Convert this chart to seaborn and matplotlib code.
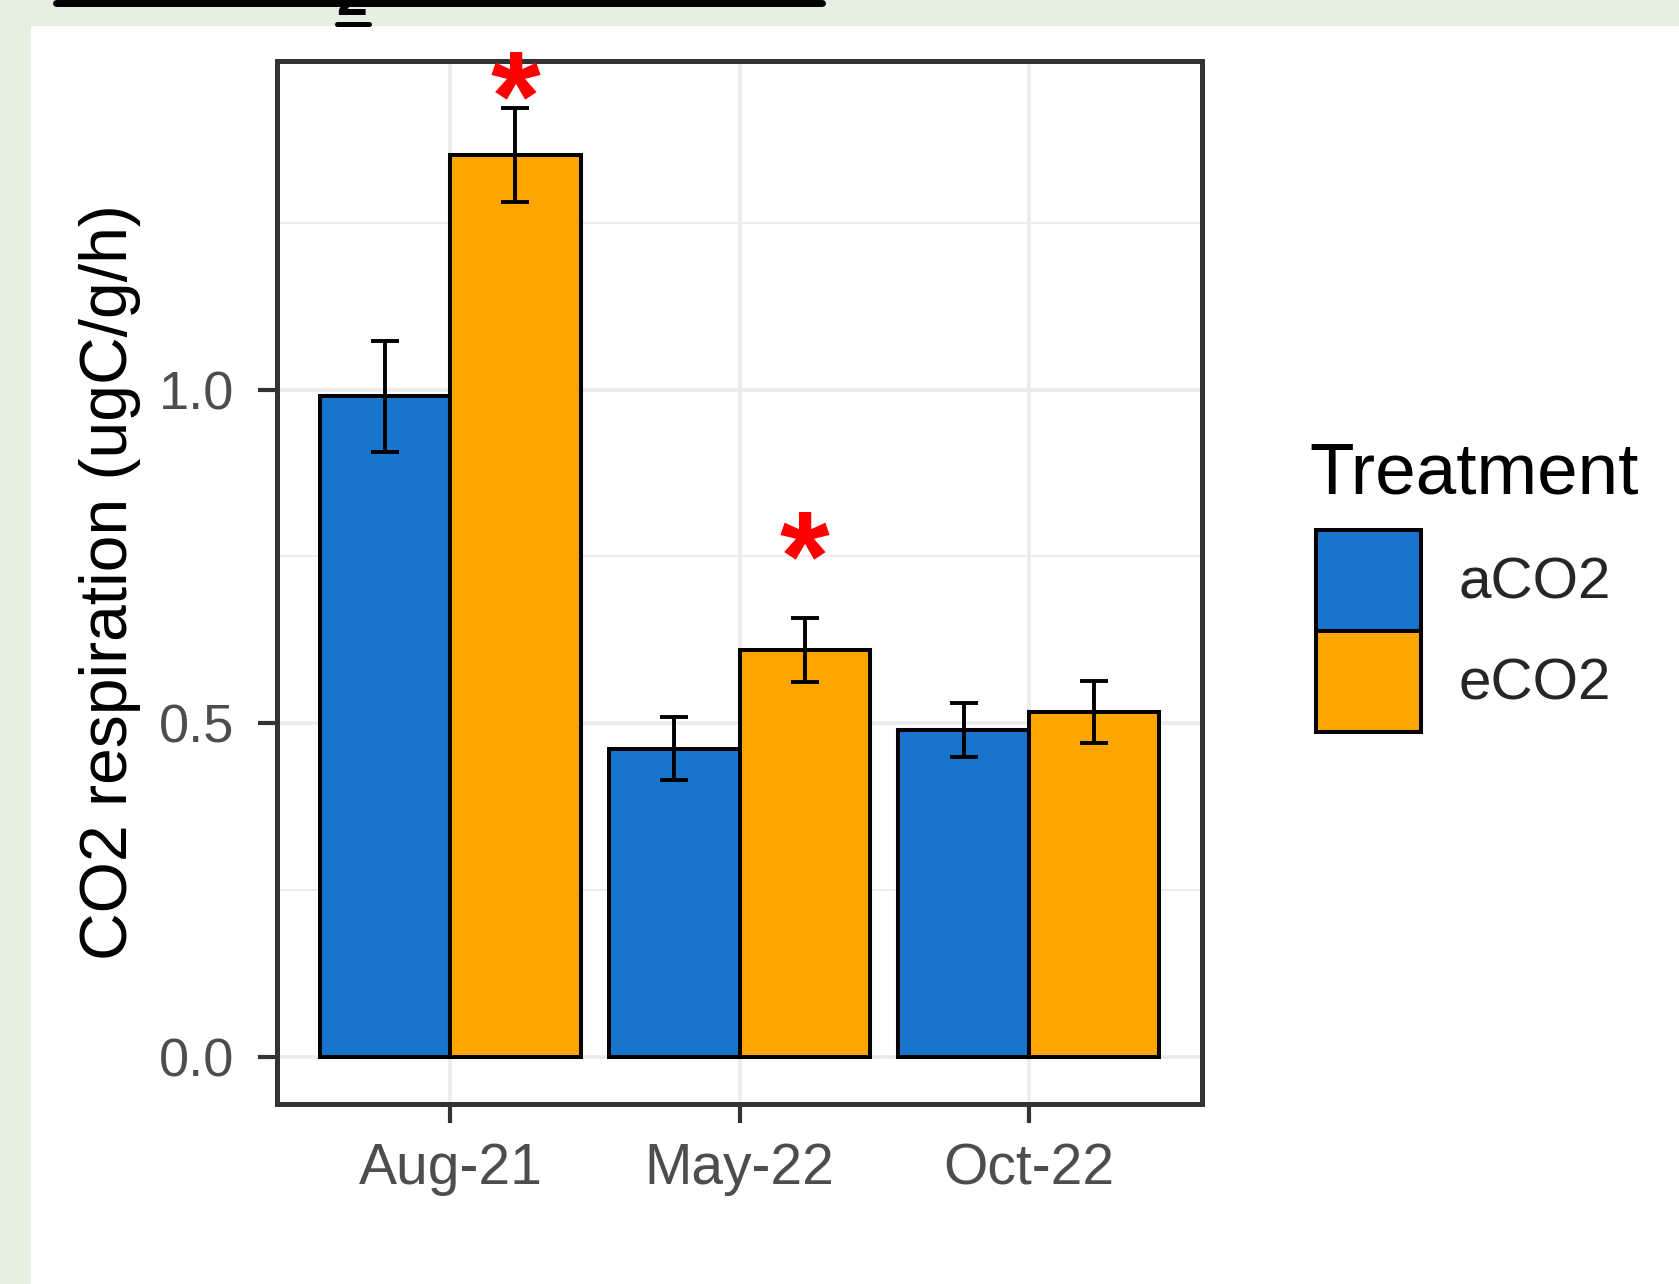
import matplotlib
matplotlib.use("Agg")
import matplotlib.pyplot as plt
import seaborn as sns
import pandas as pd
from matplotlib.patches import Patch, Rectangle
from matplotlib.lines import Line2D
from matplotlib.ticker import MultipleLocator

# Soil CO2 respiration by sampling month and CO2 treatment (mean ± SE)
months = ["Aug-21", "May-22", "Oct-22"]
treatments = ["aCO2", "eCO2"]
mean_aco2 = [0.990, 0.462, 0.490]
mean_eco2 = [1.352, 0.610, 0.517]
se_aco2 = [0.083, 0.047, 0.041]
se_eco2 = [0.070, 0.048, 0.047]
sig_month = ["Aug-21", "May-22"]
sig_treatment = ["eCO2", "eCO2"]
sig_y = [1.463, 0.774]
palette = {"aCO2": "#1874CD", "eCO2": "#FFA500"}

df = pd.DataFrame({
    "Month": months * 2,
    "Treatment": ["aCO2"] * 3 + ["eCO2"] * 3,
    "Resp": mean_aco2 + mean_eco2,
    "SE": se_aco2 + se_eco2,
})

sns.set_theme(style="white")
plt.rcParams["font.family"] = ["Liberation Sans", "DejaVu Sans"]

W, H = 1679, 1284
fig = plt.figure(figsize=(W / 100, H / 100), dpi=100, facecolor="#E5F0E1")
fig.add_artist(Rectangle((31 / W, 0), 1 - 31 / W, 1 - 26 / H,
                         transform=fig.transFigure, facecolor="white",
                         edgecolor="none", zorder=-5))

# heading fragment along the top edge
fig.add_artist(Line2D([56 / W, 822 / W], [1 - 3 / H, 1 - 3 / H],
                      transform=fig.transFigure, color="black", lw=5.0))
fig.add_artist(Line2D([337 / W, 369 / W], [1 - 23.5 / H, 1 - 23.5 / H],
                      transform=fig.transFigure, color="black", lw=3.6))
fig.text(352 / W, 1 - 15 / H, "2", ha="center", va="baseline",
         fontsize=40, fontweight="bold", color="black")

ax = fig.add_axes([277 / W, 1 - 1104 / H, (1202 - 277) / W, (1104 - 61) / H])
ax.set_facecolor("white")

sns.barplot(data=df, x="Month", y="Resp", hue="Treatment", order=months,
            hue_order=treatments, palette=palette, width=0.9, errorbar=None,
            edgecolor="black", linewidth=2.9, saturation=1, legend=False,
            ax=ax, zorder=2)

se_by_t = {"aCO2": se_aco2, "eCO2": se_eco2}
for cont, t in zip(ax.containers, treatments):
    xs = [b.get_x() + b.get_width() / 2 for b in cont]
    hs = [b.get_height() for b in cont]
    ax.errorbar(xs, hs, yerr=se_by_t[t], fmt="none", ecolor="black",
                elinewidth=2.8, capsize=10.4, capthick=2.8, zorder=3)

# significance markers, glyph centred on the given height
for m, t, y in zip(sig_month, sig_treatment, sig_y):
    bar = ax.containers[treatments.index(t)][months.index(m)]
    ax.annotate("*", xy=(bar.get_x() + bar.get_width() / 2, y),
                xytext=(0, -18.5), textcoords="offset points",
                color="red", fontsize=92, fontweight="bold",
                ha="center", va="center", zorder=4, annotation_clip=False)

top = max(m + s for m, s in zip(mean_aco2 + mean_eco2, se_aco2 + se_eco2))
pad = 0.05 * top
ax.set_ylim(-pad, top + pad)
ax.set_xlim(-0.6, 2.6)

ax.yaxis.set_major_locator(MultipleLocator(0.5))
ax.yaxis.set_minor_locator(MultipleLocator(0.25))
ax.set_axisbelow(True)
ax.grid(which="major", color="#EBEBEB", lw=2.6)
ax.grid(which="minor", axis="y", color="#EBEBEB", lw=1.3)
ax.tick_params(which="minor", length=0)
ax.tick_params(which="major", length=13.5, width=3, color="#333333",
               labelcolor="#4D4D4D", left=True, bottom=True)
ax.tick_params(axis="x", labelsize=41, pad=14)
ax.tick_params(axis="y", labelsize=39, pad=17)
for s in ax.spines.values():
    s.set_visible(True)
    s.set_color("#333333")
    s.set_linewidth(3.6)

ax.set_xlabel("")
ax.set_ylabel("CO2 respiration (ugC/g/h)", fontsize=47.5, color="black")
ax.yaxis.set_label_coords(-0.1805, 0.5)
ax.yaxis.label.set_verticalalignment("center")

handles = [Patch(facecolor=palette[t], edgecolor="black", linewidth=2.9)
           for t in treatments]
fig.legend(handles, treatments, loc="upper left",
           bbox_to_anchor=(1316 / W, 1 - 530 / H), frameon=False,
           fontsize=42, handlelength=1.8, handleheight=2.288, labelspacing=0,
           handletextpad=0.65, borderaxespad=0, borderpad=0)
fig.text(1309 / W, 1 - 493 / H, "Treatment", fontsize=52.5, color="black",
         ha="left", va="baseline")

fig.savefig("out.png", dpi=100, facecolor=fig.get_facecolor())
